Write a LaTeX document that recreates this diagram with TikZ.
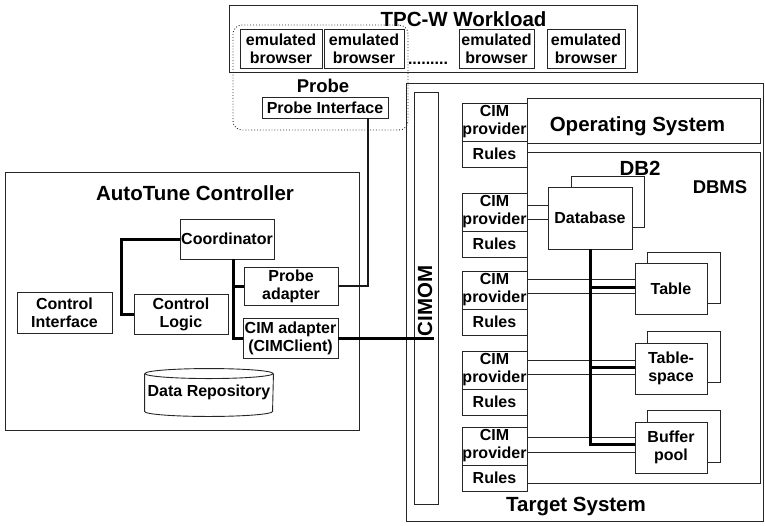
\documentclass[tikz,border=0pt]{standalone}
\usepackage{fontspec}
\setmainfont{Liberation Sans}
\newcommand\dsmall{\fontsize{16}{18}\selectfont\bfseries}
\newcommand\dmid{\fontsize{18.5}{21}\selectfont\bfseries}
\newcommand\dbig{\fontsize{20.5}{24}\selectfont\bfseries}
% [opts]{name}{x1}{y1}{x2}{y2}{text}
\newcommand\rbox[7][]{\node[box,#1,minimum width={((#5)-(#3))*1pt},minimum height={((#6)-(#4))*1pt}] (#2) at ({((#3)+(#5))/2},{((#4)+(#6))/2}) {#7};}
\begin{document}
\begin{tikzpicture}[x=1pt,y=-1pt,
  box/.style={draw=black!85, line width=0.9pt, inner sep=0pt, align=center, font=\dsmall, text=black},
  title/.style={inner sep=0pt, font=\dbig, text=black},
  midtitle/.style={inner sep=0pt, font=\dmid, text=black},
  txt/.style={inner sep=0pt, font=\dsmall, text=black},
  boxline/.style={draw=black!85, line width=0.9pt},
  thinl/.style={draw=black!85, line width=0.9pt},
  medl/.style={draw=black!90, line width=1.8pt},
  thickl/.style={draw=black, line width=3pt}]
\useasboundingbox (0,0) rectangle (765,525);

% ---- TPC-W workload
\rbox{tpc}{229}{5}{637}{72}{}
\node[title, anchor=base] (tpct) at (463.5,26.5) {TPC-W Workload};
\rbox{eb1}{240}{29}{322}{68}{emulated\\browser}
\rbox{eb2}{324}{29}{404}{68}{emulated\\browser}
\rbox{eb3}{459}{29}{534}{68}{emulated\\browser}
\rbox{eb4}{547}{29}{625}{68}{emulated\\browser}
\node[txt, anchor=base] (dots) at (428,64) {.........};

% ---- Target system
\rbox{target}{406}{83}{763}{521}{}
\node[title, anchor=base] (targett) at (576,511) {Target System};
\rbox{cimom}{414}{92}{438}{504}{}
\node[title, rotate=90] (cimomt) at (425,301) {CIMOM};

% ---- Probe
\rbox[draw=black!85, dotted, line width=0.9pt, rounded corners=9pt]{probe}{233}{25}{408}{130}{}
\node[midtitle, anchor=base] (probet) at (323,92) {Probe};
\rbox{probeif}{262}{97}{388}{118}{Probe Interface}

% ---- CIM providers and rules
\foreach \t/\i in {103/1,193/2,271/3,351/4,427/5}{
  \rbox{prov\i}{462}{\t}{527}{\t+38}{CIM\\provider}
  \rbox{rules\i}{462}{\t+38}{527}{\t+64}{Rules}
}

% ---- Operating system and DBMS
\rbox{os}{527}{98}{760}{143}{}
\node[title, anchor=base] (ost) at (637.5,131) {Operating System};
\rbox{dbms}{527}{152}{760}{483}{}
\node[title, anchor=base] (db2t) at (640,175) {DB2};
\node[midtitle, anchor=base] (dbmst) at (720,193) {DBMS};

\rbox{dbback}{571}{176}{644}{227}{}
\rbox[fill=white]{db}{548}{187}{632}{249}{Database}
\rbox{tblback}{647}{252}{720}{303}{}
\rbox[fill=white]{tbl}{635}{263}{707}{314}{Table}
\rbox{tsback}{647}{331}{720}{382}{}
\rbox[fill=white]{ts}{635}{343}{707}{394}{Table-\\space}
\rbox{bpback}{647}{410}{720}{462}{}
\rbox[fill=white]{bp}{635}{422}{707}{473}{Buffer\\pool}

% thin provider links
\draw[thinl] (prov2.east |- 0,205) -- (db.west |- 0,205);
\draw[thinl] (prov2.east |- 0,219) -- (db.west |- 0,219);
\draw[thinl] (prov3.east |- 0,279) -- (tbl.west |- 0,279);
\draw[thinl] (prov3.east |- 0,293) -- (tbl.west |- 0,293);
\draw[thinl] (prov4.east |- 0,360) -- (ts.west |- 0,360);
\draw[thinl] (prov4.east |- 0,374) -- (ts.west |- 0,374);
\draw[thinl] (prov5.east |- 0,437) -- (bp.west |- 0,437);
\draw[thinl] (prov5.east |- 0,452) -- (bp.west |- 0,452);

% thick DB bus
\draw[thickl] (db.south) |- (bp.west |- 0,444);
\draw[thickl] (db.south |- 0,287) -- (tbl.west |- 0,287);
\draw[thickl] (db.south |- 0,367) -- (ts.west |- 0,367);

% ---- AutoTune controller
\rbox{atc}{5}{172}{359}{430}{}
\node[title, anchor=base] (atct) at (195,200) {AutoTune Controller};
\rbox{coord}{180}{219}{274}{259}{Coordinator}
\rbox{ctrlif}{17}{292}{112}{333}{Control\\Interface}
\rbox{ctrllogic}{134}{294}{228}{334}{Control\\Logic}
\rbox{probead}{244}{267}{338}{305}{Probe\\adapter}
\rbox{cimad}{243}{318}{338}{358}{CIM adapter\\(CIMClient)}
\rbox[draw=none]{repo}{145}{374}{273}{411}{Data Repository}
\draw[boxline] (repo.north west) -- (repo.south west)
  arc[start angle=180, end angle=0, x radius=64, y radius=5] -- (repo.north east);
\draw[boxline] (repo.north) ellipse[x radius=64, y radius=5];

% connectors
\draw[thickl] (coord.west) -- ++(-58,0) |- (ctrllogic.west);
\draw[thickl] ([xshift=6pt]coord.south) |- (cimad.west);
\draw[thickl] ([xshift=6pt]coord.south |- probead.west) -- (probead.west);
\draw[medl] (probead.east) -| ([xshift=43pt]probeif.south);
\coordinate (cimend) at (434,0);
\draw[thickl] (cimad.east) -- (cimend |- cimad.east);
\end{tikzpicture}
\end{document}
